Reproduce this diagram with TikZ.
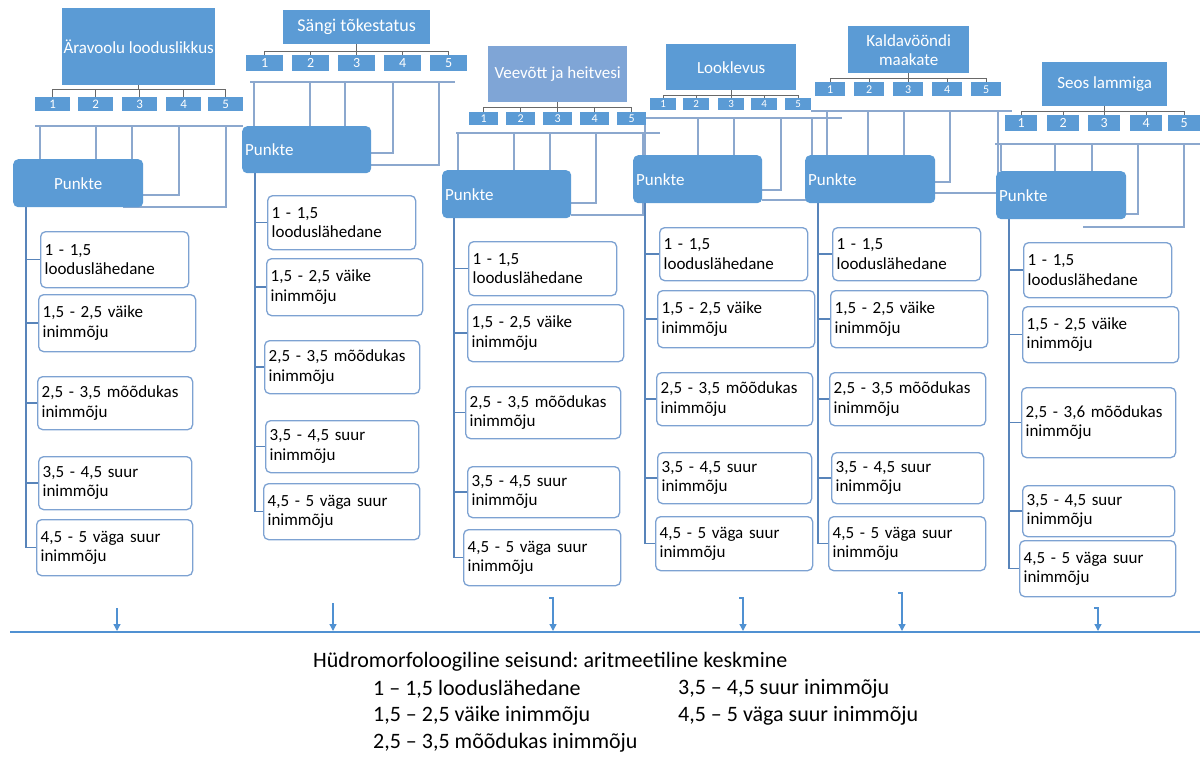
\documentclass[tikz,border=0pt]{standalone}
\usepackage{fontspec}
\setmainfont{Carlito}
\frenchspacing
\usetikzlibrary{arrows.meta}
\pgfdeclarelayer{back}
\pgfdeclarelayer{bg}
\pgfsetlayers{back,bg,main}
\definecolor{tblue}{RGB}{91,155,213}
\definecolor{tlight}{RGB}{127,165,214}
\definecolor{connc}{RGB}{140,168,206}
\definecolor{spinec}{RGB}{88,132,186}
\definecolor{brkc}{RGB}{105,105,105}
\definecolor{boxc}{RGB}{125,162,210}
\definecolor{arrc}{RGB}{80,145,210}
\tikzset{
 title/.style={fill=tblue,text=white,anchor=north west,inner sep=0pt,align=center,font=\fontsize{17}{19}\selectfont},
 numbox/.style={fill=tblue,text=white,anchor=north west,inner sep=0pt},
 punkteC/.style={fill=tblue,text=white,anchor=north west,inner ysep=0pt,inner xsep=3pt,rounded corners=5pt,align=center,font=\fontsize{17}{19}\selectfont},
 punkteL/.style={punkteC,align=left},
 scorebox/.style={draw=boxc,line width=1.3pt,fill=white,rounded corners=5pt,anchor=north west,inner ysep=0pt,inner xsep=4pt,align=left,font=\fontsize{17}{19.5}\selectfont},
 conn/.style={draw=connc,line width=1.8pt},
 spine/.style={draw=spinec,line width=1.6pt},
 brk/.style={draw=brkc,line width=1pt},
 arr/.style={draw=arrc,line width=1.3pt,-{Triangle[width=7pt,length=7pt]}},
 legend/.style={anchor=west,inner sep=0pt,font=\fontsize{22}{24}\selectfont}
}
\newcommand\scbox[7]{%
 \pgfmathsetmacro\scw{#4-#2-8}\pgfmathsetmacro\sch{#5-#3}%
 \node[scorebox,text width=\scw pt,minimum height=\sch pt] (#1) at (#2,#3) {\mbox{#6}\\\mbox{#7}};}
\newcommand\ptbox[6]{%
 \pgfmathsetmacro\pw{#4-#2}\pgfmathsetmacro\ph{#5-#3}\pgfmathsetmacro\ptw{#4-#2-6}%
 \node[#6,minimum width=\pw pt,minimum height=\ph pt,text width=\ptw pt] (#1) at (#2,#3) {Punkte};}
\newcommand\ttl[7]{%
 \pgfmathsetmacro\pw{#4-#2}\pgfmathsetmacro\ph{#5-#3}%
 \node[title,#6,minimum width=\pw pt,minimum height=\ph pt] (#1) at (#2,#3) {#7};}
\newcommand\numrow[6]{%
 \foreach \xx [count=\i] in {#6} {\node[numbox,minimum width=#4pt,minimum height=#3pt,font=\fontsize{#5}{#5}\selectfont] (#1n\i) at (\xx,#2) {\i};}}
\newcommand\bracket[2]{%
 \coordinate (#1b) at (0,#2);
 \draw[brk] (#1n1.north) |- (#1n5.north |- #1b) -- (#1n5.north);
 \foreach \k in {2,3,4} {\draw[brk] (#1n\k.north) -- (#1n\k.north |- #1b);}
 \draw[brk] (#1t.south) -- (#1t.south |- #1b);}
\newcommand\coords[8]{%
 \coordinate (#1hl) at (#3,#2); \coordinate (#1hr) at (#4,#2);
 \foreach \x [count=\k] in {#5} {\coordinate (#1v\k) at (\x,#2);}
 \coordinate (#1e4) at (#6); \coordinate (#1e5) at (#7); \coordinate (#1sp) at (#8);}
\newcommand\wire[1]{%
 \draw[conn] (#1hl) -- (#1hr);
 \foreach \k in {1,2,3} {\draw[conn] (#1v\k) -- (#1v\k |- #1p.north);}
 \draw[conn] (#1v4) |- (#1e4);
 \draw[conn] (#1v5) |- (#1e5);
 \draw[spine] (#1sp) |- (#1r5.west);
 \foreach \k in {1,...,4} {\draw[spine] (#1sp |- #1r\k.west) -- (#1r\k.west);}}
\begin{document}
\begin{tikzpicture}[x=1pt,y=-1pt]
\useasboundingbox (0,0) rectangle (1200,756);
\begin{pgfonlayer}{back}
\fill[white] (0,0) rectangle (1200,756);
\end{pgfonlayer}
% titles
\ttl{c1t}{62}{8}{215}{85}{}{Äravoolu looduslikkus}
\ttl{c2t}{283}{10}{430}{44}{font=\fontsize{18}{20}\selectfont}{Sängi tõkestatus}
\ttl{c3t}{488}{46}{627}{102}{fill=tlight}{Veevõtt ja heitvesi}
\ttl{c4t}{666}{44}{796}{90}{}{Looklevus}
\ttl{c5t}{848}{26}{969}{73}{}{Kaldavööndi\\maakate}
\ttl{c6t}{1042}{62}{1167}{106}{}{Seos lammiga}
% number rows
\numrow{c1}{97}{14}{35}{13}{35,78,122,166,208}
\numrow{c2}{55}{16}{37}{14}{246,292,338,384,430}
\numrow{c3}{112}{13}{29}{12}{469,506,543,580,617}
\numrow{c4}{98}{12}{26}{11}{650,683,718,751,785}
\numrow{c5}{82}{14}{30}{12}{815,854,893,932,971}
\numrow{c6}{115}{16}{32}{14}{1005,1047,1088,1130,1168}
% Punkte
\ptbox{c1p}{13}{159}{143}{207}{punkteC}
\ptbox{c2p}{242}{126}{371}{173}{punkteL}
\ptbox{c3p}{442}{170}{571}{218}{punkteL}
\ptbox{c4p}{633}{155}{762}{203}{punkteL}
\ptbox{c5p}{805}{155}{935}{203}{punkteL}
\ptbox{c6p}{996}{171}{1126}{219}{punkteL}
% score boxes
\scbox{c1r1}{40}{231}{188}{287}{1 - 1,5}{looduslähedane}
\scbox{c1r2}{38}{294}{195}{351}{1,5 - 2,5 väike}{inimmõju}
\scbox{c1r3}{37}{376}{192}{429}{2,5 - 3,5 mõõdukas}{inimmõju}
\scbox{c1r4}{38}{456}{191}{509}{3,5 - 4,5 suur}{inimmõju}
\scbox{c1r5}{36}{519}{192}{575}{4,5 - 5 väga suur}{inimmõju}
\scbox{c2r1}{267}{195}{415}{249}{1 - 1,5}{looduslähedane}
\scbox{c2r2}{266}{258}{422}{315}{1,5 - 2,5 väike}{inimmõju}
\scbox{c2r3}{264}{340}{419}{393}{2,5 - 3,5 mõõdukas}{inimmõju}
\scbox{c2r4}{265}{420}{418}{472}{3,5 - 4,5 suur}{inimmõju}
\scbox{c2r5}{263}{483}{419}{539}{4,5 - 5 väga suur}{inimmõju}
\scbox{c3r1}{468}{241}{616}{295}{1 - 1,5}{looduslähedane}
\scbox{c3r2}{467}{304}{623}{361}{1,5 - 2,5 väike}{inimmõju}
\scbox{c3r3}{465}{386}{620}{438}{2,5 - 3,5 mõõdukas}{inimmõju}
\scbox{c3r4}{467}{466}{619}{517}{3,5 - 4,5 suur}{inimmõju}
\scbox{c3r5}{463}{529}{620}{585}{4,5 - 5 väga suur}{inimmõju}
\scbox{c4r1}{659}{227}{807}{280}{1 - 1,5}{looduslähedane}
\scbox{c4r2}{657}{290}{814}{347}{1,5 - 2,5 väike}{inimmõju}
\scbox{c4r3}{656}{372}{812}{425}{2,5 - 3,5 mõõdukas}{inimmõju}
\scbox{c4r4}{657}{452}{811}{503}{3,5 - 4,5 suur}{inimmõju}
\scbox{c4r5}{655}{516}{812}{570}{4,5 - 5 väga suur}{inimmõju}
\scbox{c5r1}{832}{227}{980}{280}{1 - 1,5}{looduslähedane}
\scbox{c5r2}{830}{290}{987}{347}{1,5 - 2,5 väike}{inimmõju}
\scbox{c5r3}{829}{372}{985}{425}{2,5 - 3,5 mõõdukas}{inimmõju}
\scbox{c5r4}{831}{452}{983}{503}{3,5 - 4,5 suur}{inimmõju}
\scbox{c5r5}{828}{516}{985}{570}{4,5 - 5 väga suur}{inimmõju}
\scbox{c6r1}{1023}{242}{1171}{297}{1 - 1,5}{looduslähedane}
\scbox{c6r2}{1022}{306}{1178}{362}{1,5 - 2,5 väike}{inimmõju}
\scbox{c6r3}{1021}{387}{1175}{457}{2,5 - 3,6 mõõdukas}{inimmõju}
\scbox{c6r4}{1022}{485}{1174}{536}{3,5 - 4,5 suur}{inimmõju}
\scbox{c6r5}{1019}{540}{1175}{596}{4,5 - 5 väga suur}{inimmõju}
% coordinates for connectors
\coords{c1}{126}{35}{243}{40,96,132,179,226}{143,195}{123,207}{26,207}
\coords{c2}{82}{250}{455}{254,310,345,393,439}{371,153}{371,165}{255,173}
\coords{c3}{133}{456}{660}{458,514,550,596,643}{571,203}{571,215}{454,218}
\coords{c4}{118}{640}{842}{645,698,734,781,812}{762,190}{762,200}{645,203}
\coords{c5}{111}{811}{1012}{827,868,904,950,998}{935,182}{935,193}{818,203}
\coords{c6}{144}{995}{1200}{1001,1055,1092,1138,1184}{1126,214}{1083,227}{1009,219}
\begin{pgfonlayer}{bg}
\bracket{c1}{89}
\bracket{c2}{51}
\bracket{c3}{107}
\bracket{c4}{95}
\bracket{c5}{78}
\bracket{c6}{111}
\wire{c1}
\wire{c2}
\wire{c3}
\wire{c4}
\wire{c5}
\wire{c6}
\end{pgfonlayer}
% bottom arrows and line
\coordinate (bl) at (10,632);
\coordinate (br) at (1200,632);
\draw[draw=arrc,line width=2pt] (bl) -- (br);
\foreach \n/\x/\t/\h in {1/117/608/0,2/333/603/0,3/553/598/4,4/743/598/4,5/902/593/4,6/1098/608/4}{
 \coordinate (a\n-t) at (\x,\t);
 \coordinate (a\n-b) at (\x,631);
 \draw[arr] ([xshift=-\h pt]a\n-t) -- (a\n-t) -- (a\n-b);
}
% legend
\node[legend] (lg0) at (313,662) {Hüdromorfoloogiline seisund: aritmeetiline keskmine};
\node[legend] (lg1) at (373,689) {1 – 1,5 looduslähedane};
\node[legend] (lg2) at (373,716) {1,5 – 2,5 väike inimmõju};
\node[legend] (lg3) at (373,743) {2,5 – 3,5 mõõdukas inimmõju};
\node[legend] (lg4) at (678,689) {3,5 – 4,5 suur inimmõju};
\node[legend] (lg5) at (678,716) {4,5 – 5 väga suur inimmõju};
\end{tikzpicture}
\end{document}
